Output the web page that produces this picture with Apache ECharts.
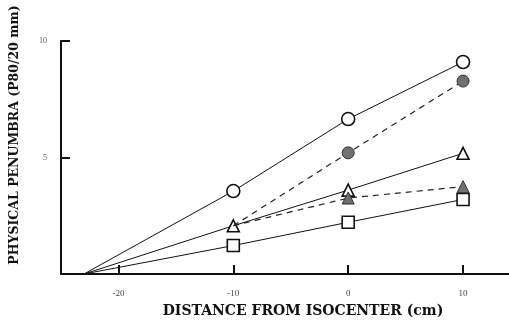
<!DOCTYPE html>
<html><head><meta charset="utf-8">
<script src="https://cdn.jsdelivr.net/npm/echarts@6/dist/echarts.min.js"></script>
<style>html,body{margin:0;padding:0;background:#fff}#c{width:509px;height:322px}</style>
</head><body><div id="c"></div>
<script>
var xTicks = [-20, -10, 0, 10];
var yTicks = [5, 10];
var origin = -23;
var openCircle = [[origin, 0], [-10, 3.56], [0, 6.65], [10, 9.1]];
var openTriangle = [[origin, 0], [-10, 2.07], [0, 3.6], [10, 5.18]];
var openSquare = [[origin, 0], [-10, 1.22], [0, 2.22], [10, 3.2]];
var filledCircle = [[-10, 2.07], [0, 5.2], [10, 8.28]];
var filledTriangle = [[-10, 2.07], [0, 3.26], [10, 3.75]];

var serif = '"Liberation Serif","DejaVu Serif",serif';
var wideSerif = '"DejaVu Serif","Liberation Serif",serif';
function pts(arr, hideFirst) {
  return arr.map(function (p, i) {
    return (i === 0 && hideFirst) ? { value: p, symbol: 'none' } : { value: p };
  });
}
function openS(name, data, sym, size) {
  return { name: name, type: 'line', data: pts(data, true), symbol: sym, symbolSize: size,
    lineStyle: { color: '#111', width: 1 }, itemStyle: { color: '#fff', borderColor: '#111', borderWidth: 1.6 },
    showAllSymbol: true, animation: false, z: 3 };
}
function filledS(name, data, sym, size) {
  return { name: name, type: 'line', data: pts(data, true), symbol: sym, symbolSize: size,
    lineStyle: { color: '#222', width: 1.2, type: [6, 5] }, itemStyle: { color: '#707070', borderColor: '#333', borderWidth: 1 },
    showAllSymbol: true, animation: false, z: 4 };
}
var chart = echarts.init(document.getElementById('c'));
chart.setOption({
  backgroundColor: '#fff',
  grid: { left: 61, top: 41, width: 450, height: 233, containLabel: false },
  xAxis: {
    type: 'value', min: -25, max: 14, splitLine: { show: false },
    axisLine: { onZero: false, lineStyle: { color: '#111', width: 2 } },
    axisTick: { show: true, inside: true, length: 9, customValues: xTicks, lineStyle: { color: '#111', width: 2 } },
    axisLabel: { customValues: xTicks, color: '#444', fontFamily: serif, fontSize: 9, margin: 15 }
  },
  yAxis: {
    type: 'value', min: 0, max: 10, splitLine: { show: false },
    axisLine: { onZero: false, lineStyle: { color: '#111', width: 2 } },
    axisTick: { show: true, inside: true, length: 9, customValues: yTicks, lineStyle: { color: '#111', width: 2 } },
    axisLabel: { customValues: yTicks, color: '#555', fontFamily: serif, fontSize: 8, margin: 14 }
  },
  graphic: [
    { type: 'text', x: 303, y: 311, style: { text: 'DISTANCE FROM ISOCENTER (cm)', font: 'bold 14px ' + wideSerif, fill: '#111', align: 'center', verticalAlign: 'middle' } },
    { type: 'text', x: 15, y: 135, rotation: Math.PI / 2, style: { text: 'PHYSICAL PENUMBRA (P80/20 mm)', font: 'bold 12.5px ' + wideSerif, fill: '#111', align: 'center', verticalAlign: 'middle' } }
  ],
  series: [
    openS('open circle', openCircle, 'circle', 13),
    openS('open triangle', openTriangle, 'triangle', 12),
    openS('open square', openSquare, 'rect', 12),
    filledS('filled circle', filledCircle, 'circle', 12),
    filledS('filled triangle', filledTriangle, 'triangle', 12)
  ]
});
</script></body></html>
